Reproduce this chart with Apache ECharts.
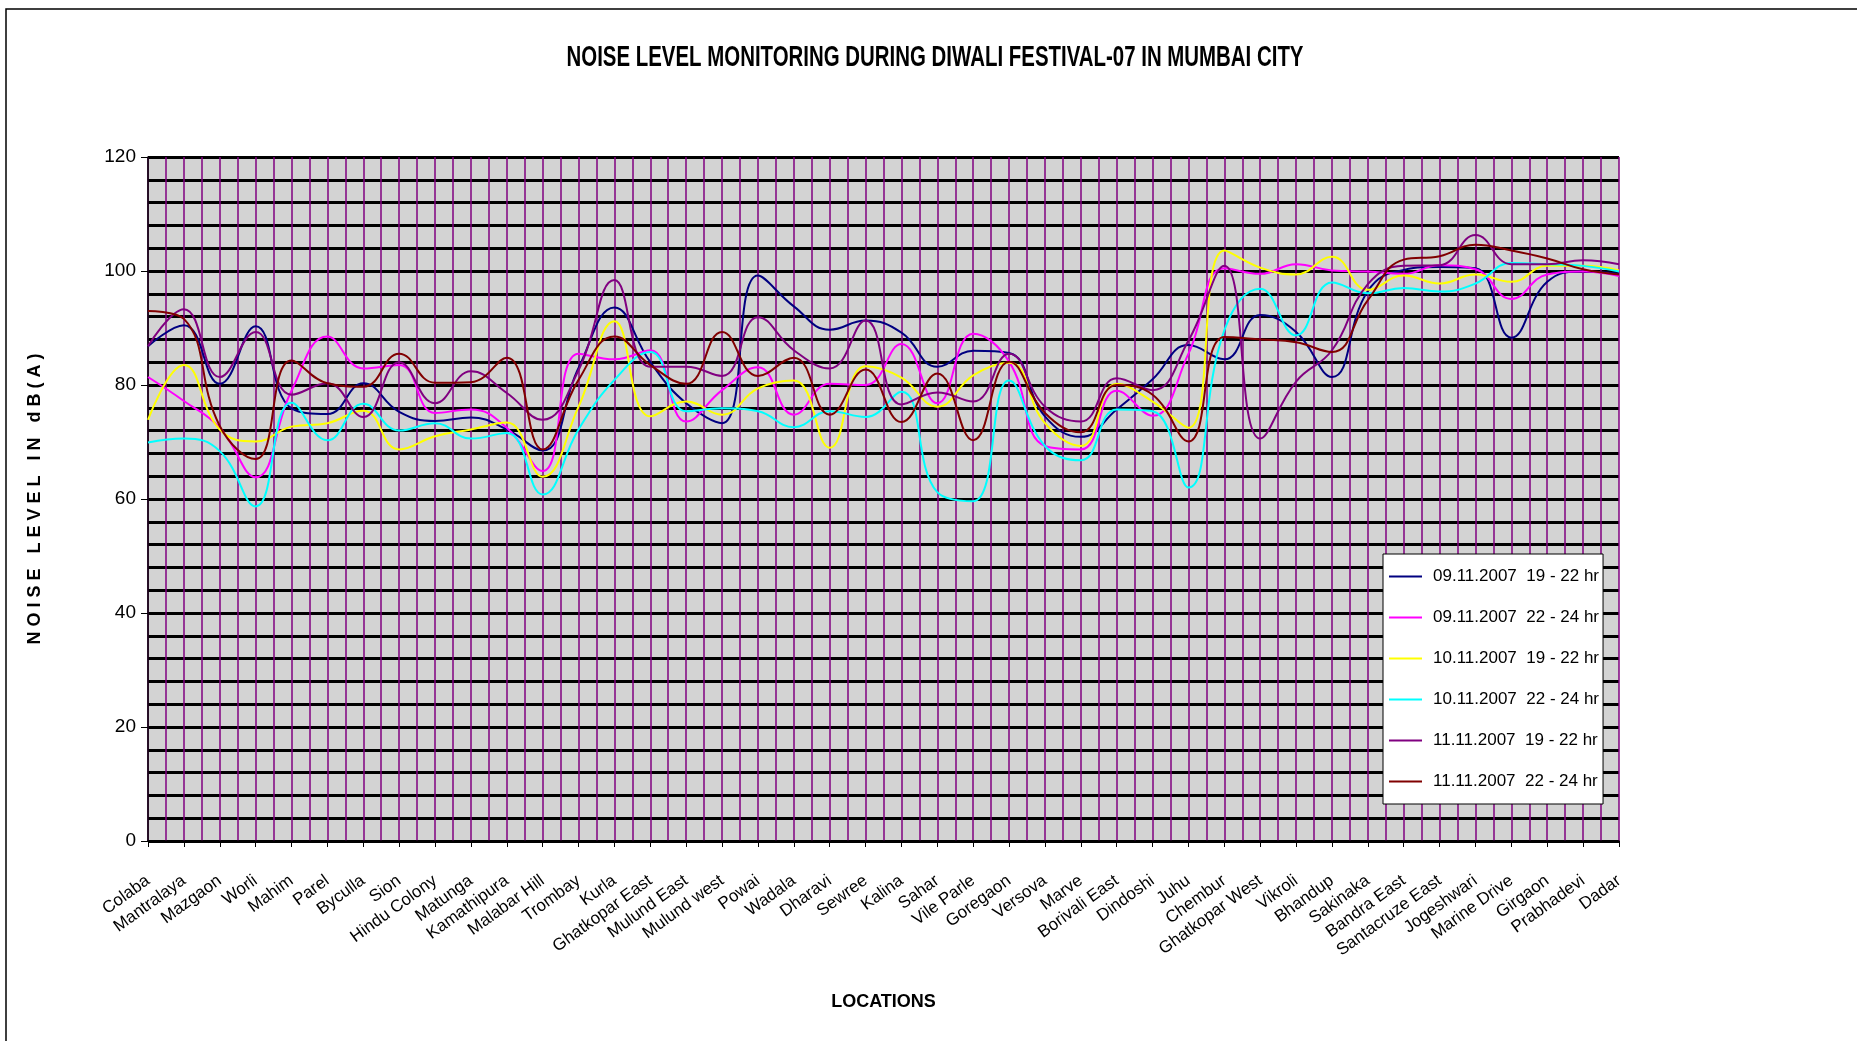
<!DOCTYPE html>
<html>
<head>
<meta charset="utf-8">
<script src="https://cdn.jsdelivr.net/npm/echarts@6/dist/echarts.min.js"></script>
<style>html,body{margin:0;padding:0;background:#fff;}#c{width:1857px;height:1041px;}</style>
</head>
<body>
<div id="c"></div>
<script>
const categories = ['Colaba','Mantralaya','Mazgaon','Worli','Mahim','Parel','Byculla','Sion','Hindu Colony','Matunga','Kamathipura','Malabar Hill','Trombay','Kurla','Ghatkopar East','Mulund East','Mulund west','Powai','Wadala','Dharavi','Sewree','Kalina','Sahar','Vile Parle','Goregaon','Versova','Marve','Borivali East','Dindoshi','Juhu','Chembur','Ghatkopar West','Vikroli','Bhandup','Sakinaka','Bandra East','Santacruze East','Jogeshwari','Marine Drive','Girgaon','Prabhadevi','Dadar'];

const seriesNames = ['09.11.2007  19 - 22 hr','09.11.2007  22 - 24 hr','10.11.2007  19 - 22 hr','10.11.2007  22 - 24 hr','11.11.2007  19 - 22 hr','11.11.2007  22 - 24 hr'];

const d0911a = [86.8,90.5,80.2,90.3,75.9,74.9,80.3,75.3,73.7,74.3,72.2,68.5,83.0,93.6,84.0,76.8,73.3,99.2,93.8,89.7,91.3,89.2,83.2,86.0,85.6,74.5,70.9,75.7,81.0,87.0,84.5,92.3,89.3,81.4,96.5,100.2,100.7,100.5,88.3,98.1,99.9,99.5];
const d0911b = [81.4,77.2,72.5,63.8,79.0,88.5,82.9,83.5,75.1,75.7,72.5,64.9,85.5,84.5,86.1,73.6,79.1,83.1,74.8,80.2,80.0,87.2,76.8,89.0,84.1,69.3,68.7,79.0,74.6,85.5,100.5,99.5,101.2,100.1,99.9,99.5,101.0,100.3,95.1,99.4,99.9,99.1];
const d1011a = [73.9,83.5,72.2,70.1,72.7,73.3,75.5,68.7,71.0,72.2,73.4,63.9,76.2,91.2,74.5,77.1,74.8,79.4,80.8,69.0,83.3,81.3,76.2,81.7,83.9,73.3,69.3,80.2,77.1,72.5,103.6,100.6,99.4,102.5,96.7,99.2,97.8,99.4,98.1,100.9,100.9,100.1];
const d1011b = [69.9,70.6,68.4,58.7,76.9,70.3,76.7,72.0,73.3,70.6,71.6,60.8,72.2,80.9,85.8,75.4,75.9,75.4,72.6,75.4,74.4,78.8,61.2,59.6,80.8,69.3,66.8,75.7,75.4,62.0,89.6,96.9,88.7,98.0,96.1,97.0,96.4,97.8,101.4,101.2,100.9,99.9];
const d1111a = [86.8,93.3,81.4,89.3,78.3,80.3,74.4,84.0,76.8,82.4,78.6,73.9,82.6,98.4,83.2,83.2,81.6,91.9,86.1,82.9,91.3,76.6,78.7,77.1,85.5,76.2,73.6,81.2,79.1,87.8,100.9,70.6,80.6,86.1,97.7,100.9,101.0,106.3,101.2,101.2,101.9,101.2];
const d1111b = [93.0,91.6,72.8,67.0,84.3,80.3,79.7,85.5,80.4,80.5,84.8,68.7,80.9,88.5,83.5,80.2,89.3,81.6,84.8,74.8,82.7,73.5,82.0,70.3,84.1,75.1,71.7,80.0,78.3,70.1,88.4,88.0,87.5,85.8,94.9,102.0,102.6,104.6,103.6,102.2,100.3,99.4];

const yTicks = [0,20,40,60,80,100,120];
const colors = ['#000080','#FF00FF','#FFFF00','#00FFFF','#800080','#800000'];
const allData = [d0911a,d0911b,d1011a,d1011b,d1111a,d1111b];
const titleText = 'NOISE LEVEL MONITORING DURING DIWALI FESTIVAL-07 IN MUMBAI CITY';

const FONT = "'Liberation Sans', Arial, sans-serif";

// horizontal compression of the title to mimic the condensed face
const titleFont = "bold 29px 'Liberation Sans', Arial, sans-serif";
const mctx = document.createElement('canvas').getContext('2d');
mctx.font = titleFont;
const titleScale = 737 / mctx.measureText(titleText).width;

// half-category positions for the vertical grid lines
const halfSteps = [];
for (let i = 0; i < categories.length * 2 - 1; i++) halfSteps.push(String(i));

const chart = echarts.init(document.getElementById('c'));
chart.setOption({
  animation: false,
  backgroundColor: '#fff',
  graphic: [{
    type: 'rect', silent: true,
    shape: { x: 6, y: 9, width: 2000, height: 1200 },
    style: { fill: 'none', stroke: '#000', lineWidth: 1.5 }
  }, {
    type: 'text', silent: true, x: 935, y: 58, scaleX: titleScale,
    style: { text: titleText, font: titleFont, fill: '#000', textAlign: 'center', textVerticalAlign: 'middle' }
  }],
  legend: {
    orient: 'vertical', left: 1383, top: 554,
    icon: 'rect', itemWidth: 33, itemHeight: 2, itemGap: 24,
    backgroundColor: '#fff', borderColor: '#000', borderWidth: 1,
    padding: [14, 4, 14, 6],
    textStyle: { fontFamily: FONT, fontSize: 17, color: '#000', padding: [0, 0, 0, 6] },
    data: seriesNames
  },
  grid: {
    left: 148, right: 238, top: 157, bottom: 200,
    show: true, backgroundColor: '#D3D3D3', borderWidth: 0
  },
  xAxis: [{
    type: 'category', data: categories, boundaryGap: false,
    axisLine: { lineStyle: { color: '#000', width: 1.5 } },
    axisTick: { show: true, length: 6, interval: 0, lineStyle: { color: '#000' } },
    axisLabel: { interval: 0, rotate: 36, margin: 38, fontFamily: FONT, fontSize: 17, color: '#000' },
    splitLine: { show: false },
    name: 'LOCATIONS', nameLocation: 'middle', nameGap: 152,
    nameTextStyle: { fontFamily: FONT, fontWeight: 'bold', fontSize: 18, color: '#000' }
  }, {
    type: 'category', data: halfSteps, boundaryGap: false, position: 'bottom',
    axisLine: { show: false }, axisTick: { show: false },
    axisLabel: { show: false, interval: 0 },
    splitLine: { show: true, interval: 0, lineStyle: { color: '#800080', width: 1.5 } }
  }],
  yAxis: {
    type: 'value', min: yTicks[0], max: yTicks[yTicks.length - 1], interval: 20,
    axisLine: { show: true, lineStyle: { color: '#000', width: 1.5 } },
    axisTick: { show: true, length: 7, lineStyle: { color: '#000' } },
    axisLabel: { fontFamily: FONT, fontSize: 19, color: '#000', margin: 12 },
    splitLine: { show: true, lineStyle: { color: '#000', width: 3 } },
    minorTick: { show: false, splitNumber: 5 },
    minorSplitLine: { show: true, lineStyle: { color: '#000', width: 3 } },
    name: 'N O I S E   L E V E L   I N   d B ( A )', nameLocation: 'middle', nameGap: 104,
    nameTextStyle: { fontFamily: FONT, fontWeight: 'bold', fontSize: 18, color: '#000' }
  },
  series: allData.map((d, k) => ({
    name: seriesNames[k], type: 'line', data: d, xAxisIndex: 0,
    smooth: 0.45, symbol: 'none', showSymbol: false,
    lineStyle: { color: colors[k], width: 2 },
    itemStyle: { color: colors[k] }
  }))
});
</script>
</body>
</html>
